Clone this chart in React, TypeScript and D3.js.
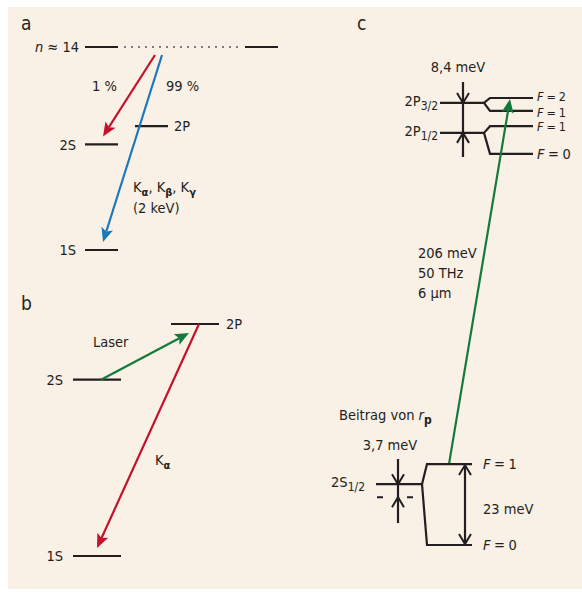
import * as d3 from 'd3'

// schematic level energies (arbitrary units, 0 = lowest level of each panel)
const levelsA = ['n14', '2P', '2S', '1S']
const energyA = [100, 61, 52, 0]
const branchA = ['1 %', '99 %']

const levelsB = ['2P', '2S', '1S']
const energyB = [100, 76, 0]

const fineNames = ['2P3/2', '2P1/2']
const fineEnergy = [98.9, 92.2]
const hfsP = ['F = 2', 'F = 1', 'F = 1', 'F = 0']
const hfsPEnergy = [100, 97.1, 93.7, 87.5]
const hfsPParent = [0, 0, 1, 1]
const hfsS = ['F = 1', 'F = 0']
const hfsSEnergy = [18.1, 0]
const sEnergy = 13.6
const sShifted = 10.7
const transitionC = ['206 meV', '50 THz', '6 µm']

const FONT = "'DejaVu Sans Condensed', 'Liberation Sans Narrow', 'Roboto', sans-serif"
const RED = '#c3132c'
const BLUE = '#1b78bd'
const GREEN = '#137a3c'
const INK = '#231f20'

const yA = d3.scaleLinear().domain([0, 100]).range([250, 47])
const yB = d3.scaleLinear().domain([0, 100]).range([556, 324])
const yC = d3.scaleLinear().domain([0, 100]).range([545, 98])

function Arrow({ x1, y1, x2, y2, color, len = 14, w = 6 }: any) {
  const dx = x2 - x1
  const dy = y2 - y1
  const d = Math.hypot(dx, dy)
  const ux = dx / d
  const uy = dy / d
  const bx = x2 - ux * len
  const by = y2 - uy * len
  const pts = [
    [x2, y2],
    [bx - uy * w, by + ux * w],
    [bx + ux * 3, by + uy * 3],
    [bx + uy * w, by - ux * w],
  ]
  return (
    <g>
      <line x1={x1} y1={y1} x2={bx + ux * 3} y2={by + uy * 3} stroke={color} strokeWidth={2.2} />
      <polygon points={pts.map((p) => p.join(',')).join(' ')} fill={color} />
    </g>
  )
}

function Chevron({ x, y, dir }: any) {
  const s = dir === 'down' ? -1 : 1
  return (
    <path
      d={`M${x - 6},${y + s * 10} L${x},${y} L${x + 6},${y + s * 10}`}
      fill="none"
      stroke={INK}
      strokeWidth={2}
    />
  )
}

const lvl = { stroke: INK, strokeWidth: 2.2 }
const txt = { fontFamily: FONT, fontSize: 14.5, fill: INK }

function Sub({ base, sub }: any) {
  return (
    <>
      {base}
      <tspan dy={4} fontSize={12}>{sub}</tspan>
    </>
  )
}

function FLabel({ label, x, y, size }: any) {
  return (
    <text {...txt} fontSize={size} x={x} y={y} dy="0.35em" letterSpacing={-0.3}>
      <tspan fontStyle="italic">F</tspan>
      {label.slice(1)}
    </text>
  )
}

export default function App() {
  const [an, a2p, a2s, a1s] = energyA.map((e) => yA(e))
  const [b2p, b2s, b1s] = energyB.map((e) => yB(e))
  const fineY = fineEnergy.map((e) => yC(e))
  const hfsPY = hfsPEnergy.map((e) => yC(e))
  const hfsSY = hfsSEnergy.map((e) => yC(e))
  const sY = yC(sEnergy)
  const sYs = yC(sShifted)
  // small label nudges so the tightly packed F labels stay apart
  const labelNudge = [-1.5, 1.5, 0, 0]

  return (
    <svg width={582} height={595} style={{ position: 'absolute', left: 0, top: 0 }}>
      <rect x={8} y={7} width={574} height={582} fill="#f9f0e6" />

      {/* panel a */}
      <text {...txt} fontSize={19} x={21} y={30}>a</text>
      <text {...txt} x={79} y={an} dy="0.35em" textAnchor="end">
        <tspan fontStyle="italic">n</tspan> ≈ 14
      </text>
      <line {...lvl} x1={85} x2={118} y1={an} y2={an} />
      <line x1={124} x2={240} y1={an} y2={an} stroke="#555" strokeWidth={1.4} strokeDasharray="2 5" />
      <line {...lvl} x1={245} x2={278} y1={an} y2={an} />
      <line {...lvl} x1={135} x2={168} y1={a2p} y2={a2p} />
      <text {...txt} x={174} y={a2p} dy="0.35em">{levelsA[1]}</text>
      <line {...lvl} x1={85} x2={118} y1={a2s} y2={a2s} />
      <text {...txt} x={76} y={a2s} dy="0.35em" textAnchor="end">{levelsA[2]}</text>
      <line {...lvl} x1={85} x2={118} y1={a1s} y2={a1s} />
      <text {...txt} x={76} y={a1s} dy="0.35em" textAnchor="end">{levelsA[3]}</text>
      <Arrow x1={155} y1={an + 8} x2={103} y2={a2s - 8} color={RED} />
      <Arrow x1={162} y1={an + 8} x2={103} y2={a1s - 8} color={BLUE} />
      <text {...txt} x={92} y={91}>{branchA[0]}</text>
      <text {...txt} x={166} y={91}>{branchA[1]}</text>
      <text {...txt} x={133} y={192}>
        K<tspan dy={4} fontSize={11} fontWeight="bold">α</tspan>
        <tspan dy={-4}>, K</tspan>
        <tspan dy={4} fontSize={11} fontWeight="bold">β</tspan>
        <tspan dy={-4}>, K</tspan>
        <tspan dy={4} fontSize={11} fontWeight="bold">γ</tspan>
      </text>
      <text {...txt} x={133} y={213}>(2 keV)</text>

      {/* panel b */}
      <text {...txt} fontSize={19} x={21} y={310}>b</text>
      <line {...lvl} x1={171} x2={219} y1={b2p} y2={b2p} />
      <text {...txt} x={226} y={b2p} dy="0.35em">{levelsB[0]}</text>
      <line {...lvl} x1={73} x2={121} y1={b2s} y2={b2s} />
      <text {...txt} x={63} y={b2s} dy="0.35em" textAnchor="end">{levelsB[1]}</text>
      <line {...lvl} x1={73} x2={121} y1={b1s} y2={b1s} />
      <text {...txt} x={63} y={b1s} dy="0.35em" textAnchor="end">{levelsB[2]}</text>
      <Arrow x1={101} y1={b2s} x2={189} y2={b2p + 9} color={GREEN} />
      <Arrow x1={199} y1={b2p} x2={97} y2={b1s - 8} color={RED} />
      <text {...txt} x={93} y={347}>Laser</text>
      <text {...txt} x={155} y={465}>
        K<tspan dy={4} fontSize={11} fontWeight="bold">α</tspan>
      </text>

      {/* panel c */}
      <text {...txt} fontSize={19} x={357} y={30}>c</text>
      <text {...txt} x={458} y={72} textAnchor="middle">8,4 meV</text>
      <line {...lvl} x1={463} x2={463} y1={82} y2={157} />
      <Chevron x={463} y={fineY[0]} dir="down" />
      <Chevron x={463} y={fineY[1]} dir="up" />
      {fineNames.map((n, i) => {
        const [base, sub] = [n.slice(0, 2), n.slice(2)]
        return (
          <g key={n}>
            <line {...lvl} x1={440} x2={484} y1={fineY[i]} y2={fineY[i]} />
            <text {...txt} x={438} y={fineY[i]} dy="0.2em" textAnchor="end">
              <Sub base={base} sub={sub} />
            </text>
          </g>
        )
      })}
      {hfsP.map((f, i) => {
        const py = fineY[hfsPParent[i]]
        const y = hfsPY[i]
        return (
          <g key={i}>
            <path d={`M484,${py} L490,${y} L533,${y}`} fill="none" {...lvl} />
            <FLabel label={f} x={537} y={y + labelNudge[i]} size={i < 3 ? 12.5 : 14.5} />
          </g>
        )
      })}

      <Arrow x1={449} y1={hfsSY[0]} x2={510} y2={hfsPY[0] + 1} color={GREEN} />
      {transitionC.map((t, i) => (
        <text key={t} {...txt} x={418} y={258 + i * 20}>{t}</text>
      ))}

      <text {...txt} x={339} y={420}>
        Beitrag von <tspan fontStyle="italic">r</tspan>
        <tspan dy={4} fontSize={12} fontWeight="bold">p</tspan>
      </text>
      <text {...txt} x={390} y={450} textAnchor="middle">3,7 meV</text>
      <line {...lvl} x1={376} x2={422} y1={sY} y2={sY} />
      <line x1={377} x2={416} y1={sYs} y2={sYs} stroke={INK} strokeWidth={2} strokeDasharray="6 24" />
      <line {...lvl} x1={398} x2={398} y1={459} y2={523} />
      <Chevron x={398} y={sY} dir="down" />
      <Chevron x={398} y={sYs} dir="up" />
      <text {...txt} x={365} y={sY} dy="0.2em" textAnchor="end">
        <Sub base="2S" sub="1/2" />
      </text>
      {hfsS.map((f, i) => (
        <g key={i}>
          <path d={`M422,${sY} L427,${hfsSY[i]} L472,${hfsSY[i]}`} fill="none" {...lvl} />
          <FLabel label={f} x={483} y={hfsSY[i]} size={14.5} />
        </g>
      ))}
      <line {...lvl} x1={465} x2={465} y1={hfsSY[0] + 1} y2={hfsSY[1] - 1} />
      <Chevron x={465} y={hfsSY[0] + 1} dir="up" />
      <Chevron x={465} y={hfsSY[1] - 1} dir="down" />
      <text {...txt} x={483} y={509} dy="0.35em">23 meV</text>
    </svg>
  )
}
